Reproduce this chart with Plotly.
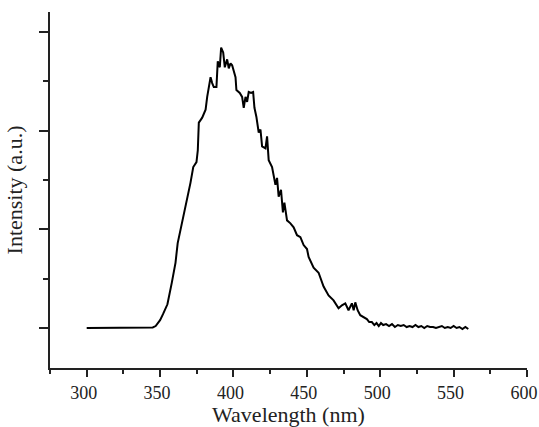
import plotly.graph_objects as go

# photoluminescence spectrum
wavelength = [300, 310, 320, 330, 340, 345, 347, 350, 352, 355, 358, 360.5, 362, 364.4, 366.7,
              368.5, 370.7, 372.6, 374.8, 375.7, 376.4, 378.7, 381, 382.1, 384.4, 385.5, 386.6,
              388.4, 389.3, 390.7, 391.6, 393, 394.1, 395.7, 396.8, 398, 399.1, 401.4, 402,
              404.3, 405.9, 407, 408.2, 409.3, 410.4, 412, 413.4, 414.3, 415.6, 417.2, 418.4,
              419.5, 421.8, 422.9, 424, 426.3, 428.6, 429.7, 430.8, 432.4, 433.7, 434.7, 436.5,
              438.8, 441, 443.3, 445.6, 447.8, 450.1, 451.2, 454.6, 458, 461.4, 464.8, 468.2,
              471.6, 473.9, 476.2, 478.4, 480.7, 481.9, 483, 484.6, 486.4, 488.5, 490.9, 492.5,
              494.3, 496, 497.5, 499, 500.5, 502, 504, 506, 508, 510, 512, 514, 516, 518, 520,
              522, 524, 526, 528, 530, 532, 534, 536, 538, 540, 542, 544, 546, 548, 550, 552,
              554, 556, 558, 560]
intensity = [0.0, 0.0, 0.0, 0.0, 0.0, 0.005, 0.02, 0.08, 0.14, 0.24, 0.46, 0.66, 0.86, 1.02, 1.17,
             1.30, 1.47, 1.63, 1.68, 1.80, 2.08, 2.13, 2.21, 2.34, 2.54, 2.48, 2.44,
             2.44, 2.70, 2.64, 2.84, 2.79, 2.64, 2.72, 2.63, 2.68, 2.66, 2.54, 2.41,
             2.38, 2.34, 2.23, 2.34, 2.29, 2.39, 2.38, 2.39, 2.23, 2.14, 1.98, 2.01,
             1.84, 1.82, 1.94, 1.70, 1.63, 1.45, 1.52, 1.33, 1.40, 1.17, 1.27, 1.09,
             1.06, 1.02, 0.94, 0.92, 0.84, 0.80, 0.72, 0.61, 0.56, 0.42, 0.33, 0.28,
             0.20, 0.23, 0.25, 0.18, 0.25, 0.18, 0.26, 0.18, 0.13, 0.11, 0.09, 0.06,
             0.06, 0.03, 0.05, 0.02, 0.05, 0.03, 0.04, 0.02, 0.04, 0.01, 0.03, 0.02, 0.03, 0.01, 0.02,
             0.01, 0.03, 0.01, 0.02, 0.0, 0.02, 0.01, 0.01, 0.0, 0.01, 0.02, 0.0, 0.01, 0.0,
             0.02, 0.0, 0.01, -0.01, 0.01, -0.01]

x_ticks = [300, 350, 400, 450, 500, 550, 600]

fig = go.Figure()
fig.add_trace(go.Scatter(x=wavelength, y=intensity, mode="lines",
                         line=dict(color="black", width=2)))

font = "Liberation Serif, Times New Roman, serif"
fig.update_layout(
    width=539, height=427,
    margin=dict(l=50, r=12, t=12, b=59, autoexpand=False),
    paper_bgcolor="white", plot_bgcolor="white",
    showlegend=False,
    font=dict(family=font, color="#222", size=18),
)
fig.update_xaxes(
    range=[275, 600], tickvals=x_ticks, ticks="outside", ticklen=7, tickwidth=2,
    tickcolor="#222", showline=True, linecolor="#222", linewidth=2, showgrid=False,
    zeroline=False, tickfont=dict(size=18), automargin=False, ticklabeloverflow="allow",
    ticklabelshift=-3,
    minor=dict(ticks="outside", ticklen=4, tickwidth=2, tickcolor="#222", dtick=25, tick0=275, showgrid=False),
    title=dict(text="Wavelength (nm)", font=dict(size=22), standoff=0),
)
fig.update_yaxes(
    range=[-0.405, 3.2], tick0=0, dtick=1, ticks="outside", ticklen=9, tickwidth=2,
    tickcolor="#222", showline=True, linecolor="#222", linewidth=2, showgrid=False,
    zeroline=False, showticklabels=False, automargin=False,
    minor=dict(ticks="outside", ticklen=5, tickwidth=2, tickcolor="#222", dtick=0.5, tick0=0, showgrid=False),
    title=dict(text="Intensity (a.u.)", font=dict(size=22), standoff=10),
)

# drop the default page margin so the figure fills the window
fig.write_html("out.html", config={"displayModeBar": False},
               post_script="document.body.style.margin='0';")
